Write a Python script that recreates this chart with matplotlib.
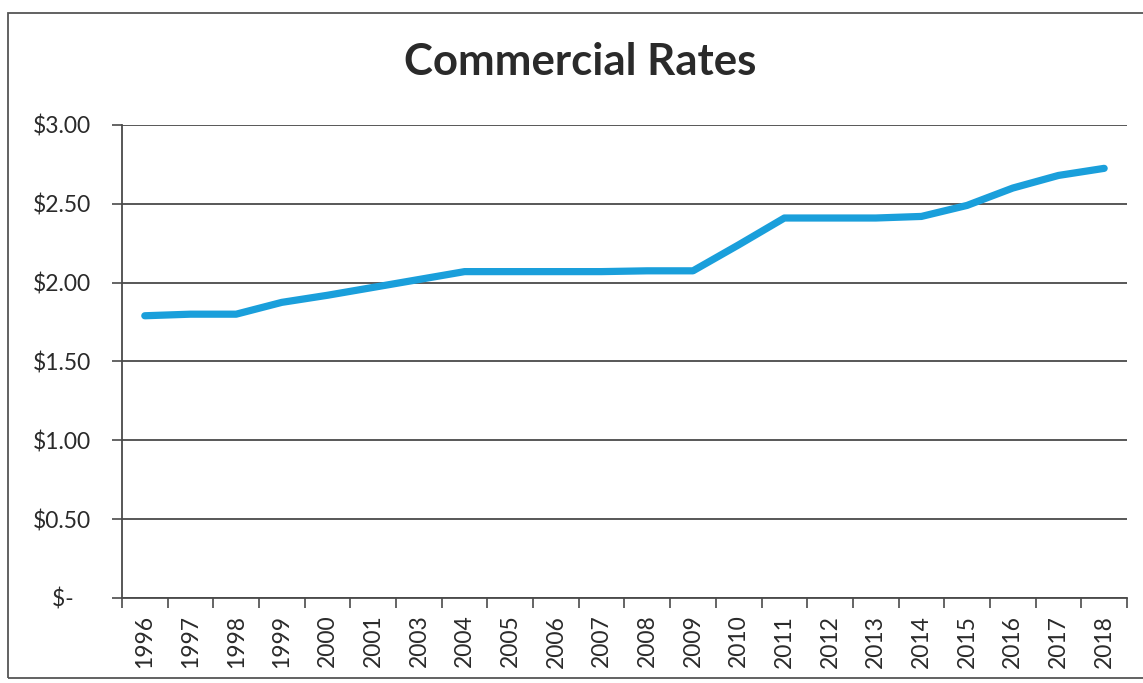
import matplotlib
matplotlib.use("Agg")
import matplotlib.pyplot as plt
from matplotlib.patches import Rectangle
import numpy as np

years = ["1996", "1997", "1998", "1999", "2000", "2001", "2003", "2004", "2005",
         "2006", "2007", "2008", "2009", "2010", "2011", "2012", "2013", "2014",
         "2015", "2016", "2017", "2018"]
rates = [1.79, 1.80, 1.80, 1.875, 1.92, 1.97, 2.02, 2.07, 2.07,
         2.07, 2.07, 2.075, 2.075, 2.24, 2.41, 2.41, 2.41, 2.42,
         2.49, 2.60, 2.68, 2.725]
y_ticks = [0.0, 0.5, 1.0, 1.5, 2.0, 2.5, 3.0]
y_labels = ["$-   ", "$0.50", "$1.00", "$1.50", "$2.00", "$2.50", "$3.00"]
title = "Commercial Rates"

plt.rcParams['font.family'] = ['Lato', 'DejaVu Sans']

fig = plt.figure(figsize=(11.43, 6.83), dpi=100)
ax = fig.add_axes([0.1067, 0.1245, 0.8793, 0.6925])

x = np.arange(len(years))
ax.plot(x, rates, color="#1a9fdb", linewidth=5.2, solid_capstyle="round",
        solid_joinstyle="round", zorder=3)

ax.set_xlim(-0.5, len(years) - 0.5)
ax.set_ylim(0, 3.0)
ax.set_yticks(y_ticks)
ax.set_yticklabels(y_labels)
ax.set_xticks(x)
ax.set_xticklabels(years, rotation=90)
ax.set_xticks(np.arange(-0.5, len(years)), minor=True)

grid_c = "#4a4a4a"
ax.grid(axis="y", color=grid_c, linewidth=1.3, zorder=1)
ax.tick_params(axis="x", which="major", length=0, pad=12, labelsize=16.5, labelcolor="#2a2a2a")
ax.tick_params(axis="x", which="minor", length=7, width=1.2, color=grid_c, direction="out")
ax.tick_params(axis="y", length=7, width=1.2, color=grid_c, pad=15, labelsize=16.5, labelcolor="#2a2a2a")

for s in ["top", "right"]:
    ax.spines[s].set_visible(False)
for s in ["left", "bottom"]:
    ax.spines[s].set_color(grid_c)
    ax.spines[s].set_linewidth(1.3)

fig.text(0.508, 0.890, title, ha="center", va="baseline", fontsize=31.5,
         fontweight="bold", color="#2a2a2a")

border = Rectangle((8 / 1143, 1 - 678 / 683), 1.2, (678 - 13) / 683,
                   transform=fig.transFigure, fill=False, edgecolor="#555555",
                   linewidth=1.3, clip_on=False)
fig.patches.append(border)

fig.savefig("out.png", dpi=100)
